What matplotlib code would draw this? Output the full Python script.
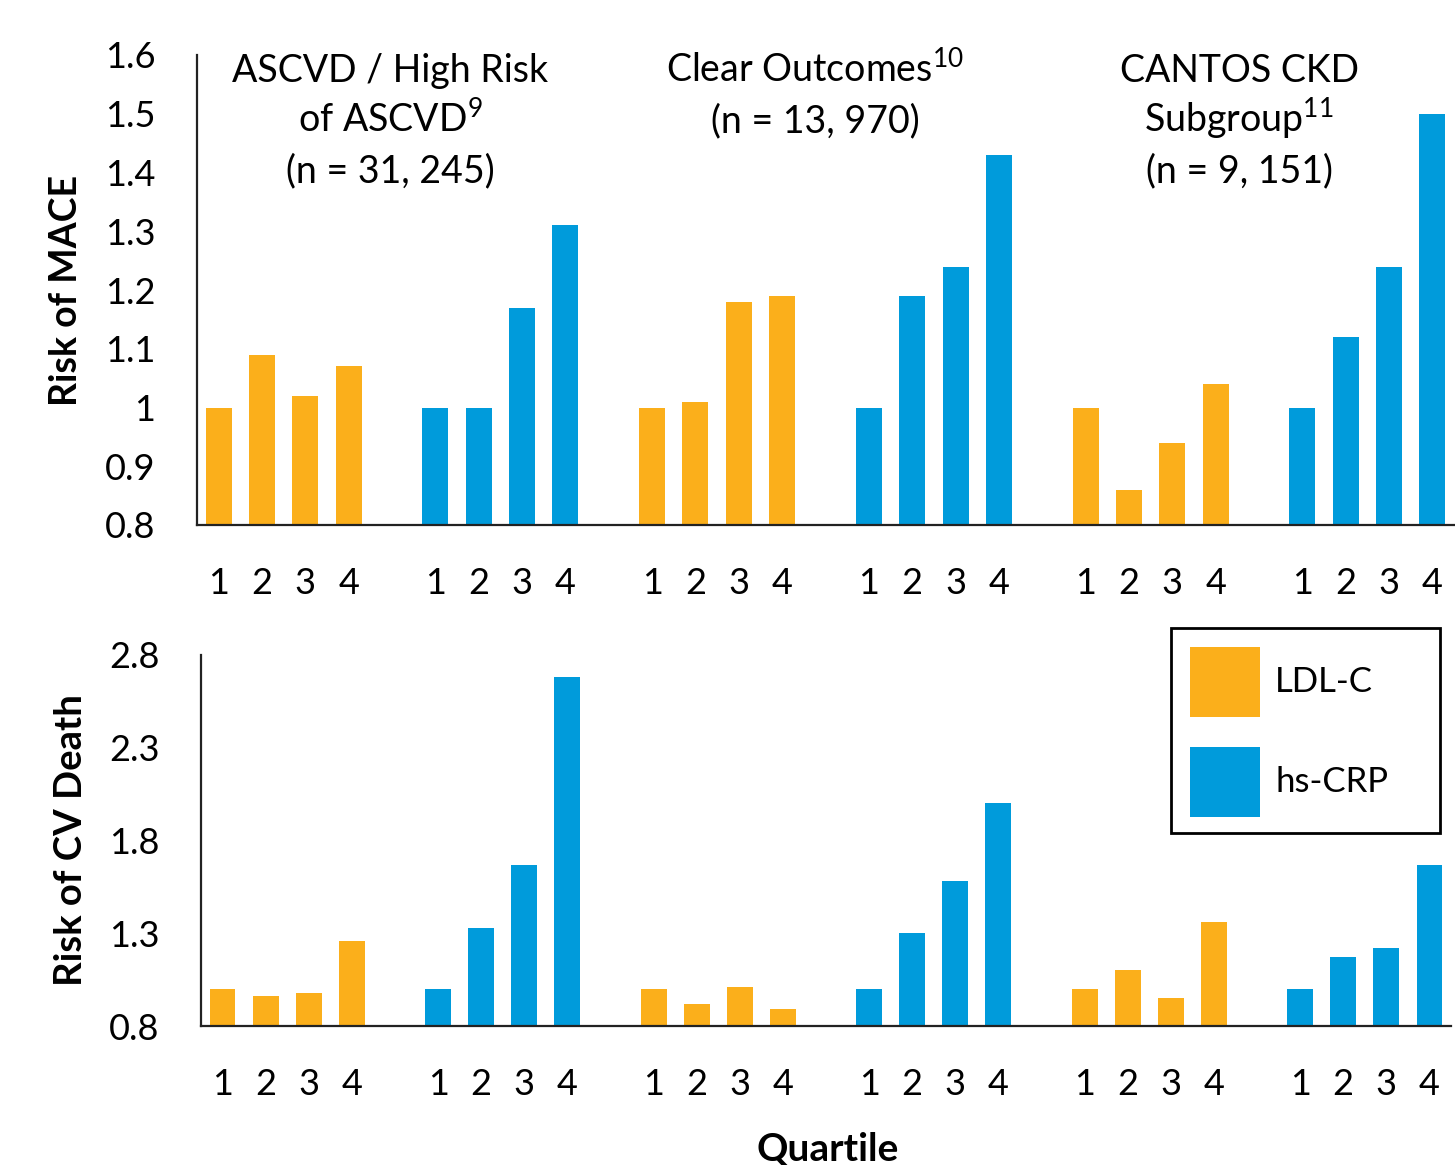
import matplotlib
matplotlib.use('Agg')
import matplotlib.pyplot as plt
from matplotlib.patches import Patch, Rectangle

plt.rcParams['font.family'] = ['Lato', 'DejaVu Sans']
plt.rcParams['mathtext.fontset'] = 'custom'
plt.rcParams['mathtext.rm'] = 'Lato'
plt.rcParams['mathtext.default'] = 'regular'

# ---- data ----
quartiles = ['1', '2', '3', '4']
series_names = ['LDL-C', 'hs-CRP']
study_titles = [
    ['ASCVD / High Risk', 'of ASCVD$^{9}$', '(n = 31, 245)'],
    ['Clear Outcomes$^{10}$', '(n = 13, 970)'],
    ['CANTOS CKD', 'Subgroup$^{11}$', '(n = 9, 151)'],
]
mace_ldl = [[1.00, 1.09, 1.02, 1.07], [1.00, 1.01, 1.18, 1.19], [1.00, 0.86, 0.94, 1.04]]
mace_crp = [[1.00, 1.00, 1.17, 1.31], [1.00, 1.19, 1.24, 1.43], [1.00, 1.12, 1.24, 1.50]]
cvd_ldl = [[1.00, 0.96, 0.98, 1.26], [1.00, 0.92, 1.01, 0.89], [1.00, 1.10, 0.95, 1.36]]
cvd_crp = [[1.00, 1.33, 1.67, 2.68], [1.00, 1.30, 1.58, 2.00], [1.00, 1.17, 1.22, 1.67]]
mace_ticks = [0.8, 0.9, 1.0, 1.1, 1.2, 1.3, 1.4, 1.5, 1.6]
mace_ticklabels = ['0.8', '0.9', '1', '1.1', '1.2', '1.3', '1.4', '1.5', '1.6']
cvd_ticks = [0.8, 1.3, 1.8, 2.3, 2.8]
cvd_ticklabels = ['0.8', '1.3', '1.8', '2.3', '2.8']

ORANGE = '#FBAF1B'
BLUE = '#009BDB'
colors = [ORANGE, BLUE]

W, H = 1455, 1165
fig = plt.figure(figsize=(W / 100, H / 100), dpi=100)

def px_axes(l, t, r, b):
    return fig.add_axes([l / W, 1 - b / H, (r - l) / W, (b - t) / H])

ax1 = px_axes(197, 55, 1454, 525)
ax2 = px_axes(201, 655, 1451, 1026)

def draw(ax, ldl, crp, ymin, ymax, ticks, ticklabels):
    xs_all = []
    for s in range(3):
        for m, data in enumerate([ldl, crp]):
            xs = [s * 10 + m * 5 + q for q in range(4)]
            ax.bar(xs, data[s], width=0.6, color=colors[m], zorder=2)
            xs_all += xs
    ax.set_xlim(-0.5, 28.5)
    ax.set_ylim(ymin, ymax)
    ax.set_xticks(xs_all)
    ax.set_xticklabels(quartiles * 6)
    ax.set_yticks(ticks)
    ax.set_yticklabels(ticklabels)
    ax.tick_params(axis='both', length=0, labelsize=26)
    ax.tick_params(axis='x', pad=30)
    ax.tick_params(axis='y', pad=30)
    for sp in ['top', 'right']:
        ax.spines[sp].set_visible(False)
    for sp in ['left', 'bottom']:
        ax.spines[sp].set_linewidth(1.6)
        ax.spines[sp].set_color('#222222')

draw(ax1, mace_ldl, mace_crp, 0.8, 1.6, mace_ticks, mace_ticklabels)
draw(ax2, cvd_ldl, cvd_crp, 0.8, 2.8, cvd_ticks, cvd_ticklabels)

ax1.set_ylabel('Risk of MACE', fontsize=27, fontweight='bold')
ax1.yaxis.set_label_coords(-0.0905, 0.5)
ax2.set_ylabel('Risk of CV Death', fontsize=27.5, fontweight='bold')
ax2.yaxis.set_label_coords(-0.0904, 0.5)
fig.text(828 / W, 1 - 1150 / H, 'Quartile', fontsize=28, fontweight='bold',
         ha='center', va='center')

# study titles (pixel placement)
title_cx = [390, 815, 1239]
baselines = [82, 132, 182]
for cx, lines in zip(title_cx, study_titles):
    for i, line in enumerate(lines):
        fig.text(cx / W, 1 - baselines[i] / H, line, fontsize=27,
                 ha='center', va='baseline')

handles = [Patch(facecolor=c, edgecolor='none') for c in colors]
leg = ax2.legend(handles, series_names, loc='upper left',
                 bbox_to_anchor=(1171 / W, 1 - 628 / H), bbox_transform=fig.transFigure,
                 fontsize=25, frameon=False,
                 handlelength=2.0, handleheight=2.7, handletextpad=0.45,
                 labelspacing=0.88, borderpad=0.55, borderaxespad=0)
fig.patches.append(Rectangle((1171 / W, 1 - 833 / H), (1440 - 1171) / W, (833 - 628) / H,
                             transform=fig.transFigure, fill=False,
                             edgecolor='black', linewidth=2, zorder=5))

fig.savefig('out.png', dpi=100, facecolor='white')
